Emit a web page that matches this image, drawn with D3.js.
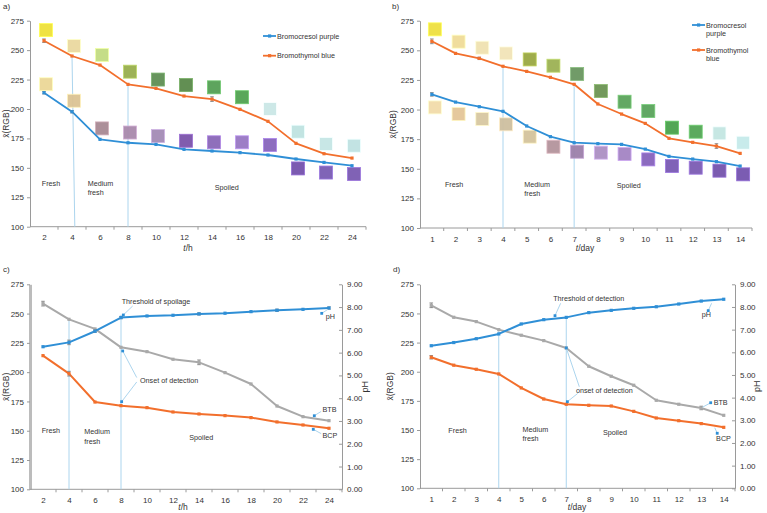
<!DOCTYPE html>
<html><head><meta charset="utf-8">
<script src="https://cdn.jsdelivr.net/npm/d3@7"></script>
<style>
body{margin:0;background:#fff}
svg{display:block}
text{font-family:"Liberation Sans",Arial,sans-serif;fill:#333}
</style>
</head><body>
<svg id="chart" width="767" height="513"></svg>
<script>
// ---------------- DATA ----------------
const hours = [2,4,6,8,10,12,14,16,18,20,22,24];
const days = [1,2,3,4,5,6,7,8,9,10,11,12,13,14];
const rgbTicks = [100,125,150,175,200,225,250,275];
const phTicks = [0,1,2,3,4,5,6,7,8,9];

// panel a (t/h)
const aBCP = [213.8,197.7,174.2,171.3,169.9,165.7,164.3,162.9,160.9,157.5,154.6,151.8];
const aBTB = [258,245,237.3,220.9,217.5,211,208.4,199.7,189.5,170.8,162,158.3];
const aBCPerr = [1,1,0,0,0,0,0,0,0,0,0,0];
const aBTBerr = [1.5,0,0,0,0,0,2,0,0,0,0,0];
const aSwatchBTB = [267,253.5,245.8,231.7,225,220.3,218.4,210,200,180.7,170.2,168.8];
const aSwatchBTBcol = ["#efe13a","#ead9a0","#c2dc82","#98ae4e","#5f8f55","#5a8a4a","#55a055","#52a352","#cbe7e6","#bfe3e1","#c6e6e5","#bfe2e2"];
const aSwatchBCP = [221,207,183.5,180,177,173,171.7,171.7,169.4,149.5,146,144.7];
const aSwatchBCPcol = ["#ecd797","#dcc394","#a88a94","#a98aac","#a48cb6","#7b54aa","#8a68b8","#9878c4","#8766bc","#7452ac","#7a5cb4","#7a5ab2"];

// panel b (t/day)
const bBCP = [212.8,206.3,202.4,198.5,186.1,177.1,172,171.2,170.6,166.6,160.5,158.2,156,152.3];
const bBTB = [257.6,247.4,243.2,236.5,232.2,227.2,221.3,204.7,196.2,188.3,175.7,172.3,169.2,163];
const bBCPerr = [1.5,0,0,0,0,0,0,0,0,0,0,0,0,0];
const bBTBerr = [2,0,1,0,0,0,0,0,0,0,0,0,2,0];
const bSwatchBTB = [267.7,257.3,252.2,247.4,242.3,237,230,215.6,206.6,198.7,184.7,181.3,179.9,172];
const bSwatchBTBcol = ["#efe040","#f0dc98","#f0e2b0","#f2e4b8","#9aa843","#9cb254","#6a9660","#6c9454","#5ca45c","#5aa45c","#4aa24c","#54a656","#c4e6e2","#c6eaea"];
const bSwatchBCP = [201.8,196.2,192,187.5,177.1,168.6,164.4,163.6,162.4,157.9,152.3,150.9,148.4,145.3];
const bSwatchBCPcol = ["#f2dcaa","#e4c698","#d8c8a2","#cebfa0","#d4c49c","#b4949c","#9c80aa","#ac90c4","#a484c4","#8664bc","#7a5ab4","#7c5cb4","#7454ac","#7454ae"];

// panel c (t/h) with pH
const cBTB = [258.5,245.1,236.9,221.2,217.5,211,208.4,199.6,189.9,171.1,162,158.6];
const cBCP = [214.1,198.7,174.5,171.4,169.7,166,164.3,162.9,161.2,157.5,154.9,152.1];
const cPH = [6.26,6.45,6.94,7.54,7.61,7.64,7.70,7.73,7.80,7.86,7.90,7.96];
const cBTBerr = [2,0,0,0,0,0,2,0,0,0,0,0];
const cBCPerr = [0,2,0,0,0,0,0,0,0,0,0,0];
const cPHerr = [0,0.1,0.05,0.05,0,0,0.05,0,0,0.05,0,0.05];

// panel d (t/day) with pH
const dBTB = [257,246.7,243,236.1,231.3,226.7,220.4,204.7,196.1,188.4,175.5,172.1,168.9,162.6];
const dBCP = [212.4,205.6,202.1,198.1,186.1,176.6,172.1,171.2,170.6,166,160.3,158,155.5,152.3];
const dPH = [6.29,6.43,6.60,6.81,7.25,7.44,7.54,7.75,7.85,7.94,8.01,8.13,8.26,8.34];
const dBTBerr = [2,0,0,0,0,0,0,0,0,0,0,0,1.5,0];
const dBCPerr = [1.5,0,0,0,0,0,0,0,0,0,0,0,0,0];
const dPHerr = [0,0,0,0,0,0,0,0,0,0,0,0,0,0];

// ---------------- STYLE ----------------
const BLUE = "#2f8fd6", ORANGE = "#f26f2c", GRAY = "#a9a9a9", VLINE = "#acd5ee", AXIS = "#9a9a9a";
const svg = d3.select("#chart");

function makePanel(cfg){
  const g = svg.append("g");
  const band = d3.scaleBand().domain(cfg.cats).range([cfg.x0, cfg.x1]);
  const first = cfg.cats[0], last = cfg.cats[cfg.cats.length-1];
  const x = d3.scaleLinear().domain([first,last])
    .range([band(first)+band.bandwidth()/2, band(last)+band.bandwidth()/2]);
  const y = d3.scaleLinear().domain([100,275]).range([cfg.yb, cfg.yt]);

  // left axis
  const la = g.append("g").attr("transform",`translate(${cfg.x0},0)`)
    .call(d3.axisLeft(y).tickValues(rgbTicks).tickSizeInner(3).tickSizeOuter(0).tickPadding(3));
  la.select(".domain").attr("stroke", cfg.thickLeft ? "#bcbcbc" : AXIS).attr("stroke-width", cfg.thickLeft ? 3 : 1);
  la.selectAll(".tick line").attr("stroke", AXIS);
  la.selectAll(".tick text").attr("font-size", 8).attr("fill","#3a3a3a").style("font-family","'Liberation Sans',Arial,sans-serif");

  // bottom axis
  const ba = g.append("g").attr("transform",`translate(0,${cfg.yb})`)
    .call(d3.axisBottom(x).tickValues(cfg.cats).tickSize(0).tickPadding(8));
  ba.select(".domain").remove();
  ba.selectAll(".tick text").attr("font-size", 8).attr("fill","#3a3a3a").style("font-family","'Liberation Sans',Arial,sans-serif");
  g.append("line").attr("x1",cfg.x0).attr("x2",cfg.x1).attr("y1",cfg.yb).attr("y2",cfg.yb)
    .attr("stroke",AXIS).attr("stroke-width",1);
  const bounds = cfg.cats.map(c=>band(c)).concat([cfg.x1]).slice(1);
  g.selectAll(null).data(bounds).enter().append("line")
    .attr("x1",d=>d).attr("x2",d=>d).attr("y1",cfg.yb).attr("y2",cfg.yb+3)
    .attr("stroke",AXIS);

  let ph = null;
  if (cfg.right){
    ph = d3.scaleLinear().domain([0,9]).range([cfg.yb, cfg.yt]);
    const ra = g.append("g").attr("transform",`translate(${cfg.x1},0)`)
      .call(d3.axisRight(ph).tickValues(phTicks).tickFormat(d3.format(".2f"))
        .tickSizeInner(-3).tickSizeOuter(0).tickPadding(5));
    ra.select(".domain").attr("stroke",AXIS);
    ra.selectAll(".tick line").attr("stroke",AXIS);
    ra.selectAll(".tick text").attr("font-size",8).attr("fill","#3a3a3a").style("font-family","'Liberation Sans',Arial,sans-serif");
    g.append("text").attr("transform",`translate(${cfg.phTitleX},${(cfg.yt+cfg.yb)/2}) rotate(-90)`)
      .attr("text-anchor","middle").attr("font-size",9).text("pH");
  }

  // titles
  g.append("text").attr("transform",`translate(${cfg.yTitleX},${(cfg.yt+cfg.yb)/2}) rotate(-90)`)
    .attr("text-anchor","middle").attr("font-size",8.5).text("x\u0304(RGB)");
  const xt = g.append("text").attr("x",cfg.xTitleX).attr("y",cfg.xTitleY).attr("text-anchor","middle").attr("font-size",8.5);
  xt.append("tspan").attr("font-style","italic").text("t");
  xt.append("tspan").text(cfg.unit);
  g.append("text").attr("x",cfg.letterX).attr("y",cfg.letterY).attr("font-size",8).text(cfg.letter);

  return {g,x,y,ph,band};
}

function vline(p, t, vTop, tBottomShift){
  p.g.append("line").attr("x1",p.x(t)).attr("x2",p.x(t + (tBottomShift||0)))
    .attr("y1",p.y(vTop)).attr("y2",p.y(100)).attr("stroke",VLINE).attr("stroke-width",1);
}

function series(p, cats, vals, errs, color, scale, width){
  const sc = scale || p.y;
  const line = d3.line().x((d,i)=>p.x(cats[i])).y(d=>sc(d));
  p.g.append("path").datum(vals).attr("d",line).attr("fill","none")
    .attr("stroke",color).attr("stroke-width",width||1.8).attr("stroke-linejoin","round");
  // error bars
  vals.forEach((v,i)=>{
    const e = errs[i]; if(!e) return;
    const xx = p.x(cats[i]);
    p.g.append("line").attr("x1",xx).attr("x2",xx).attr("y1",sc(v-e)).attr("y2",sc(v+e)).attr("stroke","#777").attr("stroke-width",0.8);
    [v-e,v+e].forEach(w=>p.g.append("line").attr("x1",xx-1.8).attr("x2",xx+1.8).attr("y1",sc(w)).attr("y2",sc(w)).attr("stroke","#777").attr("stroke-width",0.8));
  });
  p.g.selectAll(null).data(vals).enter().append("rect")
    .attr("x",(d,i)=>p.x(cats[i])-1.6).attr("y",d=>sc(d)-1.6)
    .attr("width",3.2).attr("height",3.2).attr("fill",color);
}

function swatches(p, cats, vals, cols, dx){
  p.g.selectAll(null).data(vals).enter().append("rect")
    .attr("x",(d,i)=>p.x(cats[i])+dx-6.5).attr("y",d=>p.y(d)-6.5)
    .attr("width",13).attr("height",13)
    .attr("fill",(d,i)=>cols[i]).attr("stroke",(d,i)=>d3.color(cols[i]).brighter(0.6)).attr("stroke-width",0.8)
    .attr("opacity",0.95);
}

function label(p, t, v, txt, size){
  p.g.append("text").attr("x",p.x(t)).attr("y",p.y(v)).attr("dominant-baseline","central")
    .attr("font-size",size||7.2).text(txt);
}

function leader(p, t1, v1, t2, v2, dot){
  p.g.append("line").attr("x1",p.x(t1)).attr("y1",p.y(v1)).attr("x2",p.x(t2)).attr("y2",p.y(v2))
    .attr("stroke",VLINE).attr("stroke-width",1);
  if(dot) p.g.append("rect").attr("x",p.x(t1)-1.4).attr("y",p.y(v1)-1.4).attr("width",2.8).attr("height",2.8).attr("fill",BLUE);
}

function legend(p, x0, yy, color, lines){
  p.g.append("line").attr("x1",x0).attr("x2",x0+13).attr("y1",yy).attr("y2",yy).attr("stroke",color).attr("stroke-width",1.8);
  p.g.append("rect").attr("x",x0+5).attr("y",yy-1.6).attr("width",3.2).attr("height",3.2).attr("fill",color);
  lines.forEach((s,k)=>p.g.append("text").attr("x",x0+14).attr("y",yy+k*8.5).attr("dominant-baseline","central").attr("font-size",7.2).text(s));
}

// ---------------- PANEL A ----------------
const pa = makePanel({cats:hours,x0:30,x1:366,yt:20.7,yb:226.7,unit:"/h",xTitleX:188,xTitleY:251,yTitleX:9,letter:"a)",letterX:3,letterY:9});
vline(pa,4,245,0.2); vline(pa,8,220.9,0);
swatches(pa,hours,aSwatchBTB,aSwatchBTBcol,2);
swatches(pa,hours,aSwatchBCP,aSwatchBCPcol,2);
series(pa,hours,aBTB,aBTBerr,ORANGE);
series(pa,hours,aBCP,aBCPerr,BLUE);
label(pa,1.84,137.1,"Fresh"); label(pa,5.12,137.1,"Medium"); label(pa,5.12,129.4,"fresh"); label(pa,14.2,133.7,"Spoiled");
legend(pa,263,36,BLUE,["Bromocresol purple"]);
legend(pa,263,55.7,ORANGE,["Bromothymol blue"]);

// ---------------- PANEL B ----------------
const pb = makePanel({cats:days,x0:420,x1:752,yt:20.7,yb:228,unit:"/day",xTitleX:585,xTitleY:251,yTitleX:396,letter:"b)",letterX:392,letterY:9});
vline(pb,4,236.5,0); vline(pb,7,221.3,0);
swatches(pb,days,bSwatchBTB,bSwatchBTBcol,3);
swatches(pb,days,bSwatchBCP,bSwatchBCPcol,3);
series(pb,days,bBTB,bBTBerr,ORANGE);
series(pb,days,bBCP,bBCPerr,BLUE);
label(pb,1.55,137,"Fresh"); label(pb,4.9,136.6,"Medium"); label(pb,4.9,129.4,"fresh"); label(pb,8.8,136.3,"Spoiled");
legend(pb,692,25,BLUE,["Bromocresol","purple"]);
legend(pb,692,50,ORANGE,["Bromothymol","blue"]);

// ---------------- PANEL C ----------------
const pc = makePanel({cats:hours,x0:30,x1:342,yt:284.3,yb:489.3,unit:"/h",xTitleX:183,xTitleY:510,yTitleX:9,letter:"c)",letterX:3,letterY:272,right:true,phTitleX:368,thickLeft:true});
vline(pc,4,245.1,0); vline(pc,8,249,0);
series(pc,hours,cBTB,cBTBerr,GRAY,null,2);
series(pc,hours,cBCP,cBCPerr,ORANGE,null,2);
series(pc,hours,cPH,cPHerr,BLUE,pc.ph,2);
label(pc,1.9,150,"Fresh"); label(pc,5.18,149,"Medium"); label(pc,5.18,141,"fresh"); label(pc,13.25,144,"Spoiled");
label(pc,8.05,260.1,"Threshold of spoilage");
leader(pc,8.18,248.8,8.9,256.5,true);
label(pc,9.46,193.3,"Onset of detection");
leader(pc,8.13,218.1,9.21,195.4,true);
leader(pc,8.05,174.8,9.21,191.6,true);
label(pc,23.75,247.3,"pH");
leader(pc,23.44,250.2,23.9,253.5,true);
label(pc,23.5,167.7,"BTB");
leader(pc,22.87,162.8,23.4,166.5,true);
label(pc,23.5,145.8,"BCP");
leader(pc,22.79,151.2,23.4,147.5,true);

// ---------------- PANEL D ----------------
const pd = makePanel({cats:days,x0:420,x1:735,yt:284.3,yb:488.3,unit:"/day",xTitleX:577,xTitleY:510,yTitleX:393,letter:"d)",letterX:393,letterY:272,right:true,phTitleX:760});
vline(pd,4,236.1,0); vline(pd,7,247,0);
series(pd,days,dBTB,dBTBerr,GRAY,null,2);
series(pd,days,dBCP,dBCPerr,ORANGE,null,2);
series(pd,days,dPH,dPHerr,BLUE,pd.ph,2);
label(pd,1.76,150,"Fresh"); label(pd,5.06,150.5,"Medium"); label(pd,5.06,142.5,"fresh"); label(pd,8.63,148,"Spoiled");
label(pd,6.42,263,"Threshold of detection");
leader(pd,6.5,248.1,6.75,258.7,true);
label(pd,7.43,183.7,"onset of detection");
leader(pd,7,220.4,7.58,187.1,true);
leader(pd,7.05,174.3,7.51,181.4,true);
label(pd,13.02,248.7,"pH");
leader(pd,13.31,252.4,13.46,258.7,true);
label(pd,13.55,173.8,"BTB");
leader(pd,13.42,173.4,13.05,169.5,true);
label(pd,13.66,142.3,"BCP");
leader(pd,13.71,147.2,13.6,152,true);
</script>
</body></html>
